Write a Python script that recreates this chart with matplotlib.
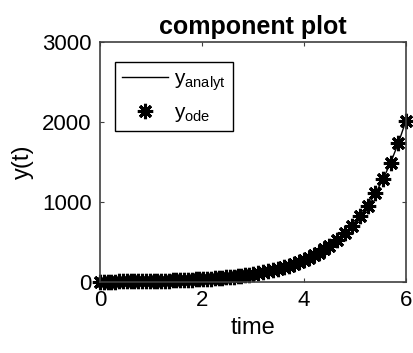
import numpy as np
import matplotlib
matplotlib.use("Agg")
import matplotlib.pyplot as plt

# time samples (denser at the start, wider near the end)
t = [0.000, 0.075, 0.150, 0.225, 0.300, 0.375, 0.450, 0.525, 0.600, 0.675,
     0.750, 0.825, 0.900, 0.975, 1.050, 1.125, 1.200, 1.275, 1.350, 1.425,
     1.500, 1.575, 1.650, 1.725, 1.800, 1.875, 1.950, 2.025, 2.100, 2.175,
     2.250, 2.325, 2.400, 2.475, 2.550, 2.625, 2.700, 2.775, 2.850, 2.925,
     3.0, 3.1, 3.2, 3.3, 3.4, 3.5, 3.6, 3.7, 3.8, 3.9,
     4.0, 4.1, 4.2, 4.3, 4.4, 4.5,
     4.65, 4.80, 4.95, 5.10, 5.25, 5.40, 5.55, 5.70, 5.85, 6.00]

# y values
y_analyt = [5.0, 5.4, 5.8, 6.3, 6.8, 7.3, 7.8, 8.5, 9.1, 9.8,
            10.6, 11.4, 12.3, 13.3, 14.3, 15.4, 16.6, 17.9, 19.3, 20.8,
            22.4, 24.2, 26.0, 28.1, 30.3, 32.6, 35.1, 37.9, 40.8, 44.0,
            47.4, 51.1, 55.1, 59.4, 64.0, 69.0, 74.4, 80.2, 86.4, 93.2,
            100, 111, 123, 136, 150, 166, 183, 202, 224, 247,
            273, 302, 333, 369, 407, 450,
            523, 608, 706, 820, 953, 1107, 1286, 1494, 1736, 2017]
y_ode = list(y_analyt)

xTicks = [0, 2, 4, 6]
yTicks = [0, 1000, 2000, 3000]

plt.rcParams['font.family'] = ['Liberation Sans', 'DejaVu Sans']
plt.rcParams['mathtext.fontset'] = 'custom'
plt.rcParams['mathtext.rm'] = 'Liberation Sans'
plt.rcParams['mathtext.it'] = 'Liberation Sans'

fig = plt.figure(figsize=(4.13, 3.53), dpi=100)
ax = fig.add_axes([0.242, 0.201, 0.741, 0.680])

frameCol = '#404040'
ax.plot(t, y_analyt, color='black', linewidth=1.0, label=r'$\mathregular{y_{analyt}}$')
ax.plot(t, y_ode, linestyle='none', marker=(8, 2, 0), markersize=11, markeredgewidth=2.2,
        color='black', label=r'$\mathregular{y_{ode}}$', clip_on=False)

ax.set_xlim(0, 6)
ax.set_ylim(0, 3000)
ax.set_xticks(xTicks)
ax.set_yticks(yTicks)
ax.tick_params(direction='in', length=3, width=0.8, color=frameCol, labelsize=16,
               top=True, right=True, pad=6)
for s in ax.spines.values():
    s.set_color(frameCol)
    s.set_linewidth(1.2)

ax.set_title('component plot', fontsize=18, fontweight='bold', pad=6)
ax.set_xlabel('time', fontsize=17, labelpad=4)
ax.set_ylabel('y(t)', fontsize=17, labelpad=6)

leg = ax.legend(loc='upper left', bbox_to_anchor=(0.049, 0.917), borderaxespad=0,
                fontsize=15, fancybox=False, framealpha=1, handlelength=2.2,
                handletextpad=0.3, labelspacing=0.5, borderpad=0.35)
leg.get_frame().set_edgecolor('black')
leg.get_frame().set_linewidth(1.0)

fig.savefig('out.png', dpi=100)
